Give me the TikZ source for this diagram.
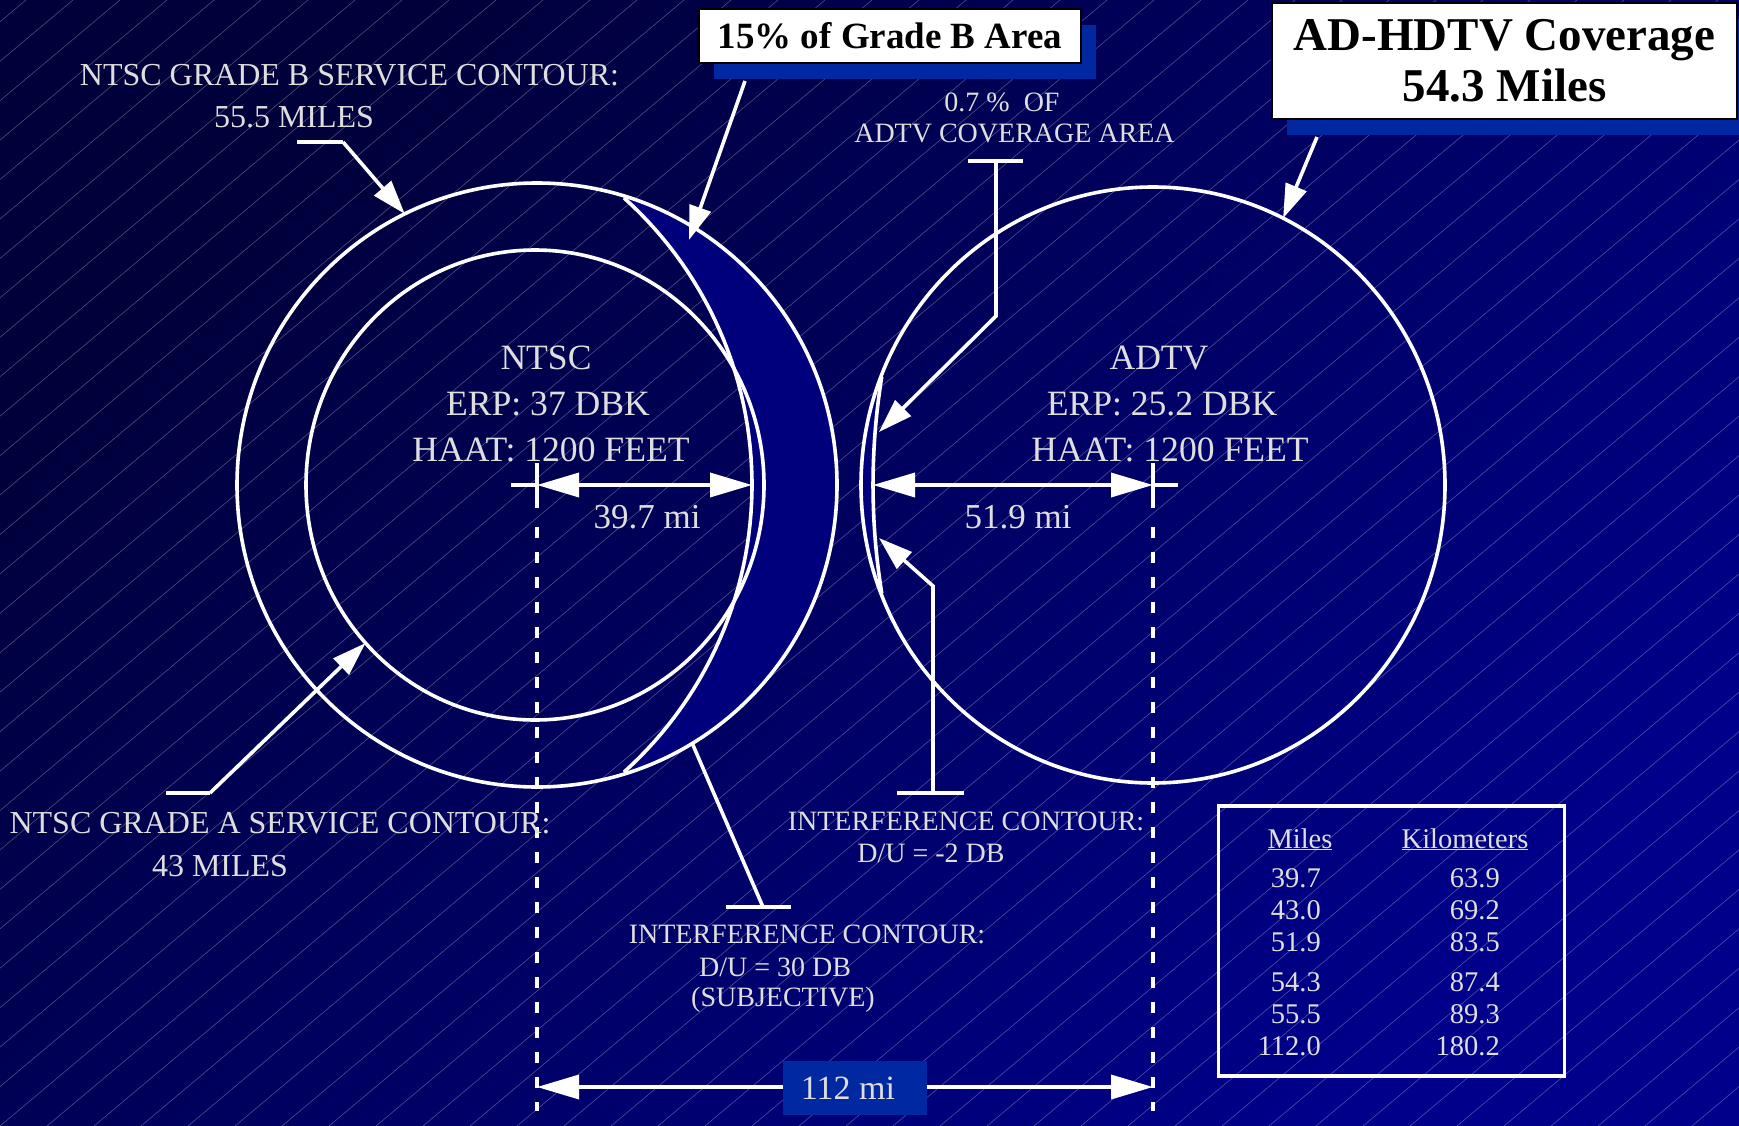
\documentclass[tikz,border=0pt]{standalone}
\usepackage{fontspec}
\setmainfont{Liberation Serif}
\usepackage{tikz}
\usetikzlibrary{arrows.meta}
\usetikzlibrary{shapes.geometric}
\usetikzlibrary{shadows}
\definecolor{bgtop}{RGB}{0,0,58}
\definecolor{bgbottom}{RGB}{0,0,138}
\definecolor{crescent}{RGB}{0,0,125}
\definecolor{shadowblue}{RGB}{0,40,160}
\definecolor{labelgray}{RGB}{222,222,222}

\begin{document}
\begin{tikzpicture}[x=1pt, y=-1pt,
		contour/.style={draw=white, line width=3.6pt},
		leader/.style={draw=white, line width=3.6pt},
		dimline/.style={draw=white, line width=3.6pt},
		guide/.style={draw=white, line width=3.2pt, dash pattern=on 11pt off 14pt},
		titlebox/.style={draw=black, fill=white, line width=2pt, inner sep=0pt, text=black,
			general shadow={fill=shadowblue, shadow xshift=15pt, shadow yshift=-16pt}}]
	\useasboundingbox (0,0) rectangle (1739,1126);
	\shade[top color=bgtop, bottom color=bgbottom, shading angle=45] (0,0) rectangle (1739,1126);
	\begin{scope}
		\clip (0,0) rectangle (1739,1126);
		\foreach \k in {-30,...,38}
			\draw[white, opacity=0.3, line width=0.6pt] (\k*47,1126) -- ++(1342,-1126);
	\end{scope}

	\fill[crescent] plot[domain=73.14:-73.14, samples=60] ({537+300*cos(\x)},{485-302*sin(\x)})
		-- plot[domain=-48.06:48.06, samples=60] ({366+386*cos(\x)},{485-386*sin(\x)}) -- cycle;
	\fill[crescent] plot[domain=158.75:201.25, samples=40] ({1153+292*cos(\x)},{485-298*sin(\x)})
		-- plot[domain=189.2:170.8, samples=40] ({1549+676*cos(\x)},{485-676*sin(\x)}) -- cycle;

	\begin{scope}[every node/.style={contour, inner sep=0pt, outer sep=0pt, ellipse}]
		\node[minimum width=600pt, minimum height=604pt] (gradeB) at (537,485) {};
		\node[minimum width=458pt, minimum height=470pt] (gradeA) at (535,485) {};
		\node[minimum width=584pt, minimum height=596pt] (adtvArea) at (1153,485) {};
	\end{scope}
	\draw[contour] plot[domain=-48.06:48.06, samples=60] ({366+386*cos(\x)},{485-386*sin(\x)});
	\draw[contour] plot[domain=189.2:170.8, samples=40] ({1549+676*cos(\x)},{485-676*sin(\x)});

	\coordinate (ntsc) at (537,485);
	\coordinate (adtv) at (1153,485);
	\coordinate (ntscStub) at (511,485);
	\coordinate (adtvStub) at (1178,485);
	\coordinate (d30Edge) at (752,485);
	\coordinate (dm2Edge) at (873,485);
	\coordinate (spanL) at (537,1087);
	\coordinate (spanR) at (1153,1087);

	\draw[dimline] (ntsc) ++(0,-22) -- ++(0,45);
	\draw[dimline] (adtv) ++(0,-22) -- ++(0,45);
	\draw[guide] (ntsc) ++(0,42) -- ++(0,584);
	\draw[guide] (adtv) ++(0,42) -- ++(0,584);

	\begin{scope}[>={Triangle[length=42pt,width=24pt]},
			every edge/.style={dimline}]
		\path [-] (ntscStub) edge (ntsc);
		\path [<->] (ntsc) edge (d30Edge);
		\path [<->] (dm2Edge) edge (adtv);
		\path [-] (adtv) edge (adtvStub);
		\path [<->] (spanL) edge (spanR);
	\end{scope}

	\coordinate (gradeBBar) at (297,142);
	\coordinate (gradeBKnee) at (343,142);
	\coordinate (gradeABar) at (166,793);
	\coordinate (gradeAKnee) at (210,793);
	\coordinate (shareFoot) at (745,81);
	\coordinate (shareTip) at (689,240);
	\coordinate (hdtvFoot) at (1317,137);
	\coordinate (pctBarL) at (968,161);
	\coordinate (pctBarR) at (1023,161);
	\coordinate (pctFoot) at (996,161);
	\coordinate (pctKnee) at (996,316);
	\coordinate (pctTip) at (879,432);
	\coordinate (icMinusBarL) at (897,793);
	\coordinate (icMinusBarR) at (964,793);
	\coordinate (icMinusFoot) at (933,793);
	\coordinate (icMinusKnee) at (933,586);
	\coordinate (icMinusTip) at (879,538);
	\coordinate (icThirtyBarL) at (726,907);
	\coordinate (icThirtyBarR) at (791,907);
	\coordinate (icThirtyFoot) at (763,907);

	\begin{scope}[>={Triangle[length=34pt,width=22pt]},
			every edge/.style={leader}]
		\path [-] (gradeBBar) edge (gradeBKnee);
		\path [->] (gradeBKnee) edge (gradeB.116);
		\path [-] (gradeABar) edge (gradeAKnee);
		\path [->] (gradeAKnee) edge (gradeA.223);
		\path [->] (shareFoot) edge (shareTip);
		\path [->] (hdtvFoot) edge (adtvArea.64);
		\path [-] (pctBarL) edge (pctBarR);
		\path [-] (icMinusBarL) edge (icMinusBarR);
		\path [-] (icThirtyBarL) edge (icThirtyBarR);
		\path [-] (icThirtyFoot) edge (gradeB.301);
		\draw [leader, ->] (pctFoot) -- (pctKnee) -- (pctTip);
		\draw [leader, ->] (icMinusFoot) -- (icMinusKnee) -- (icMinusTip);
	\end{scope}

	\begin{scope}[every node/.style={text=labelgray, inner sep=0pt, anchor=base,
			font=\fontsize{35.6pt}{43pt}\selectfont}]
		\node (ntscName) at (546,369) {NTSC};
		\node (ntscErp) at (548,415) {ERP: 37 DBK};
		\node (ntscHaat) at (551,461) {HAAT: 1200 FEET};
		\node (adtvName) at (1159,369) {ADTV};
		\node (adtvErp) at (1162,415) {ERP: 25.2 DBK};
		\node (adtvHaat) at (1170,461) {HAAT: 1200 FEET};
		\node[font=\fontsize{35pt}{42pt}\selectfont] (ntscMi) at (647,528) {39.7 mi};
		\node[font=\fontsize{35pt}{42pt}\selectfont] (adtvMi) at (1018,528) {51.9 mi};
	\end{scope}

	\begin{scope}[every node/.style={text=labelgray, inner sep=0pt, anchor=base,
			font=\fontsize{32pt}{38pt}\selectfont}]
		\node (gradeBText) at (349.5,86) {NTSC GRADE B SERVICE CONTOUR:};
		\node (gradeBMiles) at (294,128) {55.5 MILES};
		\node (gradeAText) at (280,833) {NTSC GRADE A SERVICE CONTOUR:};
		\node (gradeAMiles) at (220,876) {43 MILES};
	\end{scope}

	\begin{scope}[every node/.style={text=labelgray, inner sep=0pt, anchor=base,
			font=\fontsize{28pt}{34pt}\selectfont}]
		\node (pctTextA) at (1002,112) {0.7~\%~~OF};
		\node (pctTextB) at (1014.5,143) {ADTV COVERAGE AREA};
		\node (icMinusTextA) at (966,830) {INTERFERENCE CONTOUR:};
		\node (icMinusTextB) at (931,862) {D/U = -2 DB};
		\node (icThirtyTextA) at (807,943) {INTERFERENCE CONTOUR:};
		\node (icThirtyTextB) at (775,976) {D/U = 30 DB};
		\node (icThirtyTextC) at (783,1006) {(SUBJECTIVE)};
	\end{scope}

	\node[draw=white, line width=3.2pt, minimum width=346pt, minimum height=270pt, inner sep=0pt] (convTable) at (1391.5,941) {};
	\begin{scope}[every node/.style={text=labelgray, inner sep=0pt, anchor=base,
			font=\fontsize{28.5pt}{34pt}\selectfont}]
		\node (milesHead) at (1300,848) {\underline{Miles}};
		\node (kmHead) at (1465,848) {\underline{Kilometers}};
		\foreach \mi/\km/\yy [count=\r] in {39.7/63.9/887, 43.0/69.2/919, 51.9/83.5/951,
				54.3/87.4/991, 55.5/89.3/1023, 112.0/180.2/1055} {
			\node[anchor=base east] (mi\r) at (1321,\yy) {\mi};
			\node[anchor=base east] (km\r) at (1500,\yy) {\km};
		}
	\end{scope}

	\node[fill=shadowblue, minimum width=130pt, minimum height=54pt, inner sep=0pt, text=labelgray,
		font=\fontsize{34pt}{40pt}\selectfont,
		general shadow={fill=shadowblue, shadow xshift=14pt}] (spanLabel) at (848,1088) {112 mi};

	\node[titlebox, minimum width=382pt, minimum height=54pt,
		font=\fontsize{37pt}{44pt}\selectfont\bfseries] (gradeBShare) at (890,36) {15\% of Grade B Area};
	\node[titlebox, minimum width=465pt, minimum height=116pt, align=center,
		font=\fontsize{47pt}{51pt}\selectfont\bfseries] (hdtvTitle) at (1504.5,61) {AD-HDTV Coverage\\54.3 Miles};
\end{tikzpicture}
\end{document}
